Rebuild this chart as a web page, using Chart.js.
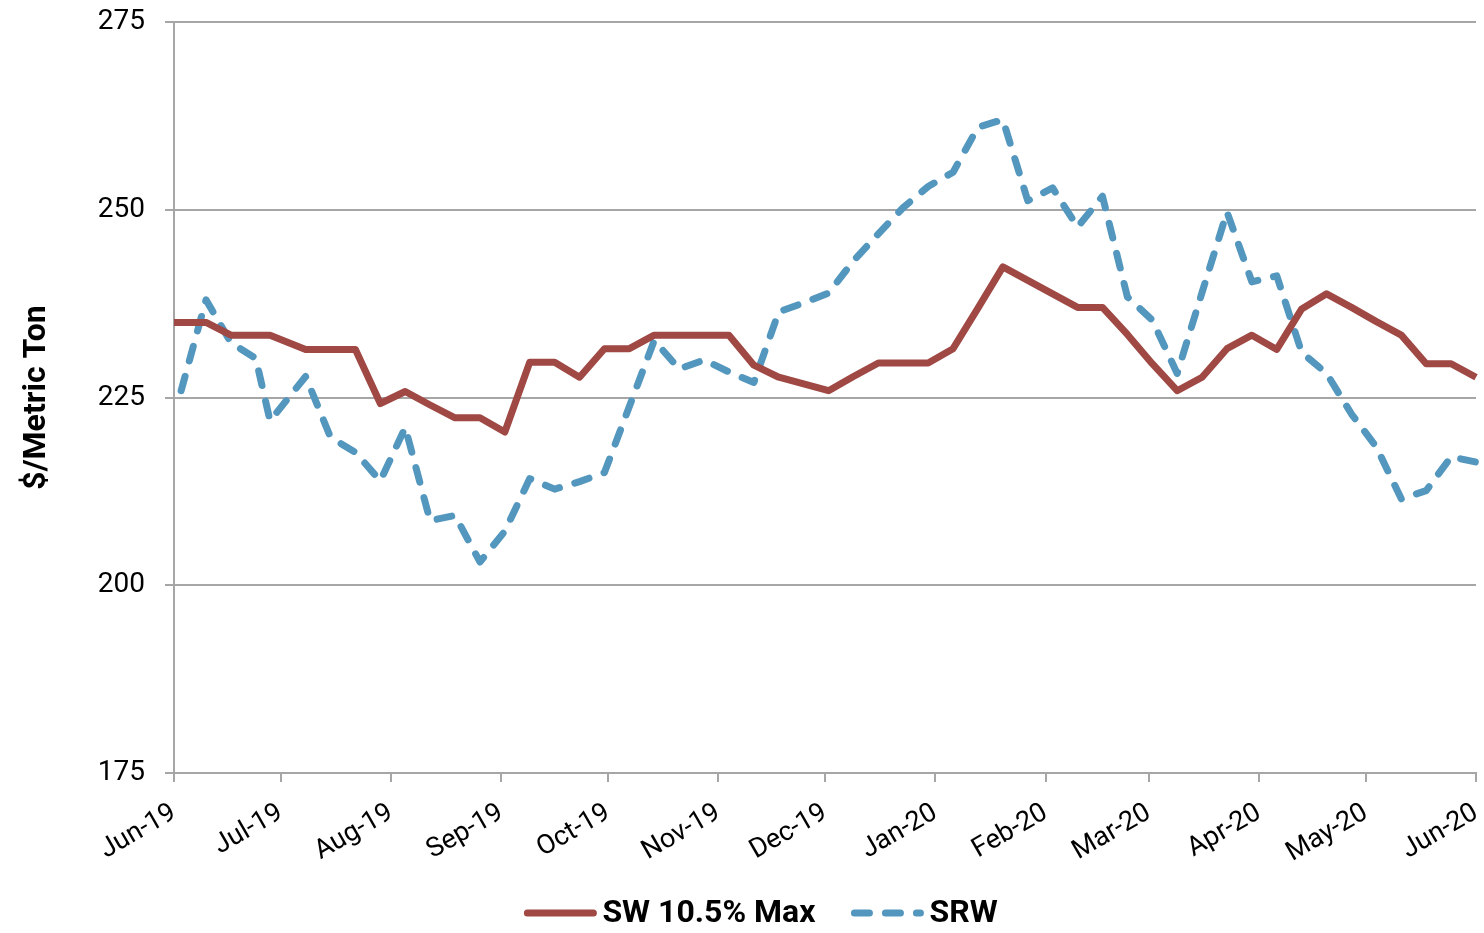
<!DOCTYPE html>
<html>
<head>
<meta charset="utf-8">
<script src="https://cdn.jsdelivr.net/npm/chart.js@4.4.1/dist/chart.umd.min.js"></script>
<style>
  html, body { margin: 0; padding: 0; background: #fff; }
  #wrap { width: 1484px; height: 933px; }
</style>
</head>
<body>
<div id="wrap"><canvas id="priceChart"></canvas></div>
<script>
// weekly quotes
const startDate = "2019-06-01";
const endDate = "2020-06-01";

const weekDates = [
  "2019-05-27", "2019-06-03", "2019-06-10", "2019-06-17", "2019-06-24", "2019-06-28",
  "2019-07-08", "2019-07-15", "2019-07-22", "2019-07-29",
  "2019-08-05", "2019-08-12", "2019-08-19", "2019-08-26",
  "2019-09-02", "2019-09-09", "2019-09-16", "2019-09-23", "2019-09-30",
  "2019-10-07", "2019-10-14", "2019-10-21", "2019-10-28",
  "2019-11-04", "2019-11-11", "2019-11-18", "2019-11-25",
  "2019-12-02", "2019-12-09", "2019-12-16", "2019-12-23", "2019-12-30",
  "2020-01-06", "2020-01-13", "2020-01-20", "2020-01-27",
  "2020-02-03", "2020-02-10", "2020-02-17", "2020-02-24",
  "2020-03-02", "2020-03-09", "2020-03-16", "2020-03-23", "2020-03-30",
  "2020-04-06", "2020-04-13", "2020-04-20", "2020-04-27",
  "2020-05-04", "2020-05-11", "2020-05-18", "2020-05-25", "2020-06-01"
];

const swMax = [
  235.0, 235.0, 235.0, 233.3, 233.3, 233.3,
  231.4, 231.4, 231.4, 224.2,
  225.8, 224.0, 222.3, 222.3,
  220.4, 229.7, 229.7, 227.7, 231.5,
  231.5, 233.3, 233.3, 233.3,
  233.3, 229.3, 227.7, 226.8,
  225.9, 227.8, 229.6, 229.6, 229.6,
  231.5, 236.9, 242.4, 240.6,
  238.8, 237.0, 237.0, 233.4,
  229.5, 225.9, 227.7, 231.5, 233.3,
  231.4, 236.8, 238.8, 237.0,
  235.1, 233.3, 229.5, 229.5, 227.7
];

const srw = [
  null, 225.9, 238.0, 232.3, 230.2, 221.9,
  227.8, 219.7, 217.7, 213.9,
  221.0, 208.6, 209.3, 203.1,
  207.2, 214.2, 212.8, 213.8, 215.0,
  223.8, 232.6, 228.8, 230.0,
  228.4, 227.0, 236.4, 237.6,
  238.9, 243.2, 246.8, 250.3, 253.1,
  255.0, 261.0, 262.0, 251.2,
  252.9, 247.7, 251.8, 238.4,
  235.3, 228.2, 239.0, 249.7, 240.4,
  241.2, 231.0, 228.2, 222.8,
  218.4, 211.5, 212.6, 217.1, 216.4
];

const monthTicks = [
  "2019-06-01", "2019-07-01", "2019-08-01", "2019-09-01", "2019-10-01", "2019-11-01",
  "2019-12-01", "2020-01-01", "2020-02-01", "2020-03-01", "2020-04-01", "2020-05-01", "2020-06-01"
];
const monthLabels = [
  "Jun-19", "Jul-19", "Aug-19", "Sep-19", "Oct-19", "Nov-19",
  "Dec-19", "Jan-20", "Feb-20", "Mar-20", "Apr-20", "May-20", "Jun-20"
];
const yTicks = [175, 200, 225, 250, 275];

const seriesNames = ["SW 10.5% Max", "SRW"];

// days since start
function dayOf(d) {
  return (Date.parse(d) - Date.parse(startDate)) / 864e5;
}

function toPoints(values) {
  return weekDates.map((d, i) => ({ x: dayOf(d), y: values[i] }));
}

const FONT = "Roboto, 'Liberation Sans', sans-serif";
const GRID = "#a6a6a6";
const RED = "#9f4844";
const BLUE = "#5396be";

/* legend drawn under the axis */
const lineLegend = {
  id: "lineLegend",
  afterDraw(chart) {
    const ctx = chart.ctx;
    const sample = 72, gap = 6, spacing = 36, y = 913;
    ctx.save();
    ctx.font = "bold 32px " + FONT;
    const items = chart.data.datasets.map(ds => ({
      ds: ds,
      w: sample + gap + ctx.measureText(ds.label).width
    }));
    const total = items.reduce((a, it) => a + it.w, 0) + spacing * (items.length - 1);
    let x = 761 - total / 2;
    items.forEach(it => {
      ctx.beginPath();
      ctx.strokeStyle = it.ds.borderColor;
      ctx.lineWidth = it.ds.borderWidth;
      ctx.lineCap = "round";
      ctx.setLineDash(it.ds.borderDash || []);
      ctx.moveTo(x + 3, y);
      ctx.lineTo(x + sample - 3, y);
      ctx.stroke();
      ctx.setLineDash([]);
      ctx.fillStyle = "#000";
      ctx.textBaseline = "middle";
      ctx.textAlign = "left";
      ctx.fillText(it.ds.label, x + sample + gap, y + 1);
      x += it.w + spacing;
    });
    ctx.restore();
  }
};

new Chart(document.getElementById("priceChart"), {
  type: "line",
  data: {
    datasets: [
      {
        label: seriesNames[0],
        data: toPoints(swMax),
        borderColor: RED,
        borderWidth: 7,
        borderJoinStyle: "round",
        pointRadius: 0,
        tension: 0,
        clip: { left: 0, top: false, right: 6, bottom: false }
      },
      {
        label: seriesNames[1],
        data: toPoints(srw),
        borderColor: BLUE,
        borderWidth: 7,
        borderDash: [15, 16],
        borderCapStyle: "round",
        borderJoinStyle: "round",
        pointRadius: 0,
        tension: 0,
        clip: { left: 0, top: false, right: 6, bottom: false }
      }
    ]
  },
  options: {
    responsive: true,
    maintainAspectRatio: false,
    animation: false,
    layout: { padding: { top: 22, right: 8, bottom: 0, left: 0 } },
    plugins: {
      legend: { display: false },
      tooltip: { enabled: false }
    },
    scales: {
      x: {
        type: "linear",
        min: dayOf(startDate),
        max: dayOf(endDate),
        afterBuildTicks: s => { s.ticks = monthTicks.map(d => ({ value: dayOf(d) })); },
        ticks: {
          autoSkip: false,
          maxRotation: 30,
          minRotation: 30,
          padding: 15,
          color: "#000",
          font: { family: FONT, size: 27 },
          callback: (v, i) => monthLabels[i]
        },
        grid: { drawOnChartArea: false, drawTicks: true, tickLength: 9, color: GRID, lineWidth: 2 },
        border: { color: GRID, width: 2 },
        afterFit: s => { s.height = 160; s.paddingLeft = 0; s.paddingRight = 0; }
      },
      y: {
        min: 175,
        max: 275,
        afterBuildTicks: s => { s.ticks = yTicks.map(v => ({ value: v })); },
        ticks: {
          padding: 20,
          color: "#000",
          font: { family: FONT, size: 28 }
        },
        grid: { color: GRID, lineWidth: 2, tickLength: 9 },
        border: { color: GRID, width: 2 },
        title: {
          display: true,
          text: "$/Metric Ton",
          color: "#000",
          font: { family: FONT, size: 32, weight: "bold" },
          padding: { top: 18, bottom: 0 }
        },
        afterFit: s => { s.width = 174; s.paddingTop = 0; s.paddingBottom = 0; }
      }
    }
  },
  plugins: [lineLegend]
});
</script>
</body>
</html>
